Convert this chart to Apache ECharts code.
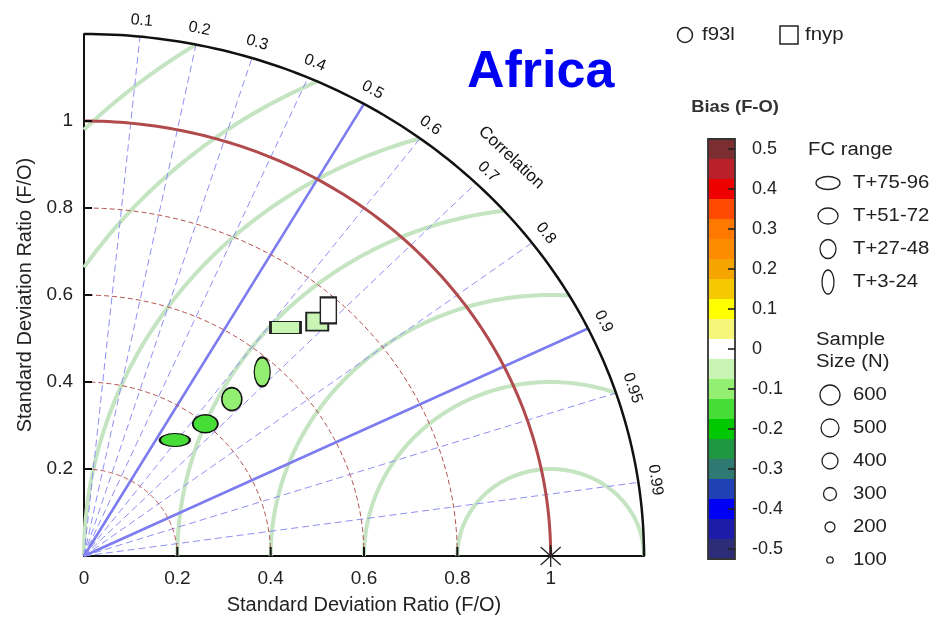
<!DOCTYPE html>
<html><head><meta charset="utf-8">
<script src="https://cdn.jsdelivr.net/npm/echarts@6/dist/echarts.min.js"></script>
<style>html,body{margin:0;padding:0;background:#fff}#c{width:941px;height:620px}</style>
</head><body><div id="c"></div>
<script>
// ---- data ----
const sdMax = 1.2;
const sdTicks = [0.2, 0.4, 0.6, 0.8, 1.0];
const sdArcs = [0.2, 0.4, 0.6, 0.8, 1.0];
const rmsArcs = [0.2, 0.4, 0.6, 0.8, 1.0, 1.2, 1.4];
const corrTicks = [0.1, 0.2, 0.3, 0.4, 0.5, 0.6, 0.7, 0.8, 0.9, 0.95, 0.99];
const corrMajor = [0.5, 0.9];
const refPoint = [1, 0];

const f93lSd = [0.33, 0.40, 0.48, 0.57];
const f93lCorr = [0.59, 0.65, 0.66, 0.67];
const f93lBias = [-0.15, -0.15, -0.1, -0.1];
const f93lFc = ['T+75-96', 'T+51-72', 'T+27-48', 'T+3-24'];

const fnypSd = [0.68, 0.735, 0.77];
const fnypCorr = [0.635, 0.68, 0.68];
const fnypBias = [-0.05, -0.05, 0];
const fnypFc = ['T+75-96', 'T+51-72', 'T+3-24'];

const biasLevels = [0.5, 0.45, 0.4, 0.35, 0.3, 0.25, 0.2, 0.15, 0.1, 0.05, 0, -0.05, -0.1, -0.15, -0.2, -0.25, -0.3, -0.35, -0.4, -0.45, -0.5];
const biasColors = ['#7b2d30', '#ba2029', '#ee0000', '#ff4a00', '#ff7800', '#ff8c00', '#f6a400', '#f5c800', '#ffff00', '#f6f67c', '#ffffff', '#c8f5b4', '#92ef72', '#46dd36', '#00c800', '#1e9642', '#2e7a72', '#2040b6', '#0000f5', '#1c1ca8', '#2c2c78'];
const biasTicks = [0.5, 0.4, 0.3, 0.2, 0.1, 0, -0.1, -0.2, -0.3, -0.4, -0.5];

const fcLegend = ['T+75-96', 'T+51-72', 'T+27-48', 'T+3-24'];
const sampleSizes = [600, 500, 400, 300, 200, 100];

// ---- styles (not data) ----
const ellipseSize = {'T+75-96': [30, 13], 'T+51-72': [25, 18], 'T+27-48': [20, 23], 'T+3-24': [16, 29]};
const rectSize = {'T+75-96': [30, 12], 'T+51-72': [22, 18], 'T+27-48': [19, 20], 'T+3-24': [16, 26]};
const legendEllipse = {'T+75-96': [12, 6.5], 'T+51-72': [10, 8], 'T+27-48': [8, 9.5], 'T+3-24': [6, 12]};
const sampleRadius = {600: 10, 500: 9, 400: 8, 300: 6.5, 200: 5, 100: 3.2};
const FONT = '"Liberation Sans", Arial, sans-serif';
const SX = 1.13;

function biasColor(b) {
  let best = 0, bd = 1e9;
  biasLevels.forEach((v, i) => { const d = Math.abs(v - b); if (d < bd) { bd = d; best = i; } });
  return biasColors[best];
}
function toXY(sd, c) { return [sd * c, sd * Math.sqrt(Math.max(0, 1 - c * c))]; }

function arcPts(api, cx, r, a0, a1) {
  const pts = [], n = 120;
  for (let i = 0; i <= n; i++) {
    const a = a0 + (a1 - a0) * i / n;
    pts.push(api.coord([cx + r * Math.cos(a), r * Math.sin(a)]));
  }
  return pts;
}

const chart = echarts.init(document.getElementById('c'), null, {renderer: 'canvas'});

const f93lData = f93lSd.map((s, i) => ({
  value: toXY(s, f93lCorr[i]), symbolSize: ellipseSize[f93lFc[i]],
  itemStyle: {color: biasColor(f93lBias[i])}
}));
const fnypData = fnypSd.map((s, i) => ({
  value: toXY(s, fnypCorr[i]), symbolSize: rectSize[fnypFc[i]],
  itemStyle: {color: biasColor(fnypBias[i])}
}));

function txt(x, y, text, size, extra) {
  return Object.assign({type: 'text', x: x, y: y, scaleX: SX,
    style: {text: text, font: size + 'px ' + FONT, fill: '#222', verticalAlign: 'middle'}}, extra || {});
}

const graphics = [];
// top legend
graphics.push({type: 'circle', shape: {cx: 685, cy: 35, r: 7.5}, style: {fill: 'none', stroke: '#222', lineWidth: 1.5}});
graphics.push(txt(702, 35, 'f93l', 18));
graphics.push({type: 'rect', shape: {x: 780, y: 26, width: 18, height: 18}, style: {fill: 'none', stroke: '#222', lineWidth: 1.5}});
graphics.push(txt(805, 35, 'fnyp', 18));
// Africa
graphics.push({type: 'text', x: 467, y: 73, style: {text: 'Africa', font: 'bold 52px ' + FONT, fill: '#0000f2', verticalAlign: 'middle'}});
// colorbar title
graphics.push({type: 'text', x: 735, y: 107, scaleX: 1.08,
  style: {text: 'Bias (F-O)', font: 'bold 17px ' + FONT, fill: '#333', align: 'center', verticalAlign: 'middle'}});
// FC range legend
graphics.push(txt(808, 150, 'FC range', 18));
fcLegend.forEach((fc, i) => {
  const cy = 183 + i * 33;
  const r = legendEllipse[fc];
  graphics.push({type: 'ellipse', shape: {cx: 828, cy: cy, rx: r[0], ry: r[1]}, style: {fill: 'none', stroke: '#222', lineWidth: 1.3}});
  graphics.push(txt(853, cy, fc, 18));
});
// Sample size legend
graphics.push(txt(816, 351, 'Sample\nSize (N)', 18, {}));
graphics[graphics.length - 1].style.lineHeight = 22;
sampleSizes.forEach((n, i) => {
  const cy = 395 + i * 33;
  graphics.push({type: 'circle', shape: {cx: 830, cy: cy, r: sampleRadius[n]}, style: {fill: 'none', stroke: '#222', lineWidth: 1.3}});
  graphics.push(txt(853, cy, String(n), 18));
});

const option = {
  animation: false,
  backgroundColor: '#ffffff',
  grid: [
    {left: 84, top: 34, width: 560, height: 523, containLabel: false},
    {left: 708, top: 149, width: 27, height: 400, containLabel: false}
  ],
  xAxis: [
    {gridIndex: 0, type: 'value', min: 0, max: sdMax, interval: 0.2,
     axisLine: {show: true, lineStyle: {color: '#111', width: 2}},
     axisTick: {show: false}, splitLine: {show: false},
     axisLabel: {margin: 13, fontSize: 19, fontFamily: FONT, color: '#222',
       formatter: v => (v > 1.05 ? '' : String(Math.round(v * 10) / 10))},
     name: 'Standard Deviation Ratio (F/O)', nameLocation: 'middle', nameGap: 39,
     nameTextStyle: {fontSize: 20, fontFamily: FONT, color: '#222'}},
    {gridIndex: 1, type: 'value', min: 0, max: 1, show: false}
  ],
  yAxis: [
    {gridIndex: 0, type: 'value', min: 0, max: sdMax, interval: 0.2,
     axisLine: {show: true, lineStyle: {color: '#111', width: 2}},
     axisTick: {show: false}, splitLine: {show: false},
     axisLabel: {margin: 11, fontSize: 19, fontFamily: FONT, color: '#222',
       formatter: v => ((v < 0.05 || v > 1.05) ? '' : String(Math.round(v * 10) / 10))},
     name: 'Standard Deviation Ratio (F/O)', nameLocation: 'middle', nameGap: 47, nameRotate: 90,
     nameTextStyle: {fontSize: 20, fontFamily: FONT, color: '#222'}},
    {gridIndex: 1, type: 'value', min: -0.5, max: 0.5, interval: 0.1, position: 'right',
     axisLine: {show: false}, splitLine: {show: false}, axisTick: {show: false},
     axisLabel: {margin: 17, fontSize: 18, fontFamily: FONT, color: '#222',
       formatter: v => String(Math.round(v * 10) / 10)}}
  ],
  series: [
    { // RMS difference arcs (green)
      type: 'custom', xAxisIndex: 0, yAxisIndex: 0, data: rmsArcs.map(r => [r]), z: 1,
      renderItem: (params, api) => {
        const r = api.value(0);
        let c0 = (sdMax * sdMax - 1 - r * r) / (2 * r);
        const a0 = c0 >= 1 ? 0 : Math.acos(c0);
        const a1 = r <= 1 ? Math.PI : Math.acos(-1 / r);
        return {type: 'polyline', shape: {points: arcPts(api, 1, r, a0, a1)},
          style: {stroke: '#c4e4c2', lineWidth: 4, fill: null}};
      }
    },
    { // correlation rays (blue)
      type: 'custom', xAxisIndex: 0, yAxisIndex: 0, data: corrTicks.map(c => [c]), z: 2,
      renderItem: (params, api) => {
        const c = api.value(0);
        const major = corrMajor.indexOf(c) >= 0;
        const p0 = api.coord([0, 0]);
        const p1 = api.coord(toXY(sdMax, c));
        return {type: 'line', shape: {x1: p0[0], y1: p0[1], x2: p1[0], y2: p1[1]},
          style: major ? {stroke: '#7c7cf0', lineWidth: 2.6} : {stroke: '#9090f5', lineWidth: 1, lineDash: [7, 4]}};
      }
    },
    { // std dev arcs (red)
      type: 'custom', xAxisIndex: 0, yAxisIndex: 0, data: sdArcs.map(r => [r]), z: 3,
      renderItem: (params, api) => {
        const r = api.value(0);
        const solid = Math.abs(r - 1) < 1e-6;
        return {type: 'polyline', shape: {points: arcPts(api, 0, r, 0, Math.PI / 2)},
          style: solid ? {stroke: '#b04a4c', lineWidth: 3, fill: null} : {stroke: '#b55050', lineWidth: 1, lineDash: [5, 3], fill: null}};
      }
    },
    { // outer arc
      type: 'custom', xAxisIndex: 0, yAxisIndex: 0, data: [[sdMax]], z: 4,
      renderItem: (params, api) => ({type: 'polyline', shape: {points: arcPts(api, 0, api.value(0), 0, Math.PI / 2)},
        style: {stroke: '#111', lineWidth: 2.5, fill: null}})
    },
    { // axis ticks
      type: 'custom', xAxisIndex: 0, yAxisIndex: 0, data: sdTicks.map(v => [v]), z: 4,
      renderItem: (params, api) => {
        const v = api.value(0);
        const px = api.coord([v, 0]);
        const py = api.coord([0, v]);
        return {type: 'group', children: [
          {type: 'line', shape: {x1: px[0], y1: px[1], x2: px[0], y2: px[1] - 9}, style: {stroke: '#111', lineWidth: 2}},
          {type: 'line', shape: {x1: py[0], y1: py[1], x2: py[0] + 8, y2: py[1]}, style: {stroke: '#111', lineWidth: 2}}
        ]};
      }
    },
    { // correlation labels
      type: 'custom', xAxisIndex: 0, yAxisIndex: 0, data: corrTicks.map(c => [c]), z: 4,
      renderItem: (params, api) => {
        const c = api.value(0);
        const th = Math.acos(c), R = 1.237;
        const p = api.coord([R * Math.cos(th), R * Math.sin(th)]);
        const q = api.coord([R * Math.cos(th - 0.01), R * Math.sin(th - 0.01)]);
        const rot = -Math.atan2(q[1] - p[1], q[0] - p[0]);
        return {type: 'text', x: p[0], y: p[1], rotation: rot,
          style: {text: String(c), font: '16px ' + FONT, fill: '#111', align: 'center', verticalAlign: 'middle'}};
      }
    },
    { // "Correlation" title along the arc
      type: 'custom', xAxisIndex: 0, yAxisIndex: 0, data: [[1.295]], z: 4,
      renderItem: (params, api) => {
        const R = api.value(0), th = Math.PI / 4;
        const p = api.coord([R * Math.cos(th), R * Math.sin(th)]);
        const q = api.coord([R * Math.cos(th - 0.01), R * Math.sin(th - 0.01)]);
        const rot = -Math.atan2(q[1] - p[1], q[0] - p[0]);
        return {type: 'text', x: p[0], y: p[1], rotation: rot,
          style: {text: 'Correlation', font: '17px ' + FONT, fill: '#111', align: 'center', verticalAlign: 'middle'}};
      }
    },
    { // reference star
      type: 'custom', xAxisIndex: 0, yAxisIndex: 0, data: [refPoint], z: 6,
      renderItem: (params, api) => {
        const p = api.coord([api.value(0), api.value(1)]);
        const s = {stroke: '#222', lineWidth: 1.3};
        return {type: 'group', children: [
          {type: 'line', shape: {x1: p[0] - 10, y1: p[1] - 9, x2: p[0] + 10, y2: p[1] + 9}, style: s},
          {type: 'line', shape: {x1: p[0] - 10, y1: p[1] + 9, x2: p[0] + 10, y2: p[1] - 9}, style: s},
          {type: 'line', shape: {x1: p[0], y1: p[1] - 11, x2: p[0], y2: p[1] + 11}, style: s}
        ]};
      }
    },
    {
      name: 'f93l', type: 'scatter', xAxisIndex: 0, yAxisIndex: 0, symbol: 'circle', z: 8,
      itemStyle: {borderColor: '#111', borderWidth: 1.6, opacity: 1}, data: f93lData
    },
    {
      name: 'fnyp', type: 'scatter', xAxisIndex: 0, yAxisIndex: 0, symbol: 'rect', z: 8,
      itemStyle: {borderColor: '#222', borderWidth: 1.8, opacity: 1}, data: fnypData
    },
    { // colorbar blocks
      type: 'custom', xAxisIndex: 1, yAxisIndex: 1, data: biasLevels.map((v, i) => [v, i]), z: 2,
      renderItem: (params, api) => {
        const v = api.value(0);
        const a = api.coord([0, v + 0.025]);
        const b = api.coord([1, v - 0.025]);
        return {type: 'rect', shape: {x: a[0], y: a[1], width: b[0] - a[0], height: b[1] - a[1] + 0.5},
          style: {fill: biasColors[api.value(1)]}};
      }
    },
    { // colorbar frame
      type: 'custom', xAxisIndex: 1, yAxisIndex: 1, data: [[0.525]], z: 3,
      renderItem: (params, api) => {
        const t = api.value(0);
        const a = api.coord([0, t]);
        const b = api.coord([1, -t]);
        return {type: 'rect', shape: {x: a[0], y: a[1], width: b[0] - a[0], height: b[1] - a[1]},
          style: {fill: null, stroke: '#333', lineWidth: 1.8}};
      }
    },
    { // colorbar ticks (inside, on right edge)
      type: 'custom', xAxisIndex: 1, yAxisIndex: 1, data: biasTicks.map(v => [v]), z: 4,
      renderItem: (params, api) => {
        const p = api.coord([1, api.value(0)]);
        return {type: 'line', shape: {x1: p[0], y1: p[1], x2: p[0] - 7, y2: p[1]},
          style: {stroke: '#222', lineWidth: 1.6}};
      }
    }
  ],
  graphic: graphics
};
chart.setOption(option);
</script></body></html>
